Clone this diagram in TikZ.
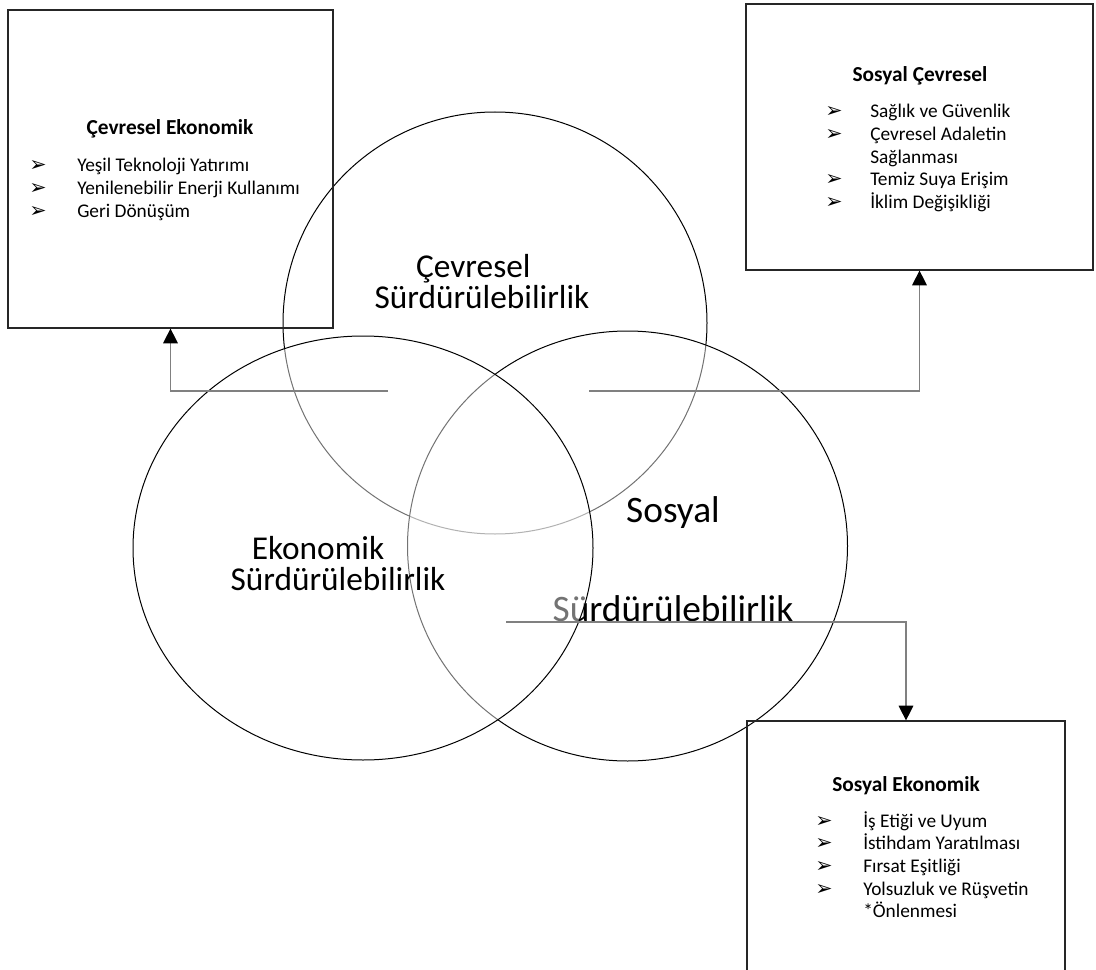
\documentclass[tikz,border=0pt]{standalone}
\usepackage{fontspec}
\setmainfont{Carlito}
\newfontfamily\symfont{DejaVu Sans}
\usetikzlibrary{arrows.meta, shapes.geometric}

\tikzset{
  kutu/.style={draw=black!85, line width=0.9pt, rectangle, inner sep=0pt},
  halka/.style={draw=black, line width=0.75pt, ellipse, inner sep=0pt, fill=white, fill opacity=0.45},
  ok/.style={draw=black!50, line width=0.8pt, -{Triangle[width=11pt, length=11pt, color=black]}},
  baslik/.style={font=\bfseries\fontsize{16}{19}\selectfont, anchor=base, inner sep=0pt},
  liste/.style={font=\fontsize{14.5}{17}\selectfont, anchor=base west, inner sep=0pt},
  buyuk/.style={font=\fontsize{25}{23.25}\selectfont, align=center, anchor=base, inner sep=0pt}
}
\newcommand{\madde}{{\symfont\fontsize{15.5}{10}\selectfont ➢}}

\begin{document}
\begin{tikzpicture}[x=0.75pt, y=-0.75pt]
  \useasboundingbox (0,0) rectangle (1096,970);

  % the three circles, later ones lie over earlier ones
  \node[halka, minimum width=318pt, minimum height=316.5pt] (cevre) at (495,323) {};
  \node[buyuk] (cevret) at (482,308) {Çevresel\hspace*{13pt}\\Sürdürülebilirlik};
  \node[halka, minimum width=330pt, minimum height=322.5pt] (sosyal) at (627.5,546) {};
  \node[buyuk, font=\fontsize{28}{34}\selectfont] (sosyalt) at (673,621) {Sosyal\\[40pt]Sürdürülebilirlik};
  \node[halka, minimum width=345pt, minimum height=318pt] (ekonomi) at (363,548) {};
  \node[buyuk] (ekonomit) at (338,590) {Ekonomik\hspace*{30pt}\\Sürdürülebilirlik};

  % boxes
  \node[kutu, minimum width=243.75pt, minimum height=238.5pt] (cek) at (170.5,169) {};
  \node[kutu, minimum width=260.25pt, minimum height=199.5pt] (sce) at (919.5,137) {};
  \node[kutu, minimum width=238.5pt, minimum height=201.75pt] (sek) at (906,855.5) {};

  % box texts
  \node[baslik] (cekb) at (170,135) {Çevresel Ekonomik};
  \node[liste] (cekl) at (29,172) {\begin{tabular}[t]{@{}p{36pt}@{}l@{}}
    \madde & Yeşil Teknoloji Yatırımı\\
    \madde & Yenilenebilir Enerji Kullanımı\\
    \madde & Geri Dönüşüm
  \end{tabular}};

  \node[baslik] (sceb) at (920,82) {Sosyal Çevresel};
  \node[liste] (scel) at (825,118) {\begin{tabular}[t]{@{}p{33.75pt}@{}l@{}}
    \madde & Sağlık ve Güvenlik\\
    \madde & Çevresel Adaletin\\
           & Sağlanması\\
    \madde & Temiz Suya Erişim\\
    \madde & İklim Değişikliği
  \end{tabular}};

  \node[baslik] (sekb) at (906,791) {Sosyal Ekonomik};
  \node[liste] (sekl) at (815,827) {\begin{tabular}[t]{@{}p{36pt}@{}l@{}}
    \madde & İş Etiği ve Uyum\\
    \madde & İstihdam Yaratılması\\
    \madde & Fırsat Eşitliği\\
    \madde & Yolsuzluk ve Rüşvetin\\
           & *Önlenmesi
  \end{tabular}};

  % connectors
  \coordinate (c1) at (388,391);
  \coordinate (c2) at (589,391);
  \coordinate (c3) at (506,622);
  \draw[ok] (c1) -| (cek.south);
  \draw[ok] (c2) -| (sce.south);
  \draw[ok] (c3) -| (sek.north);
\end{tikzpicture}
\end{document}
